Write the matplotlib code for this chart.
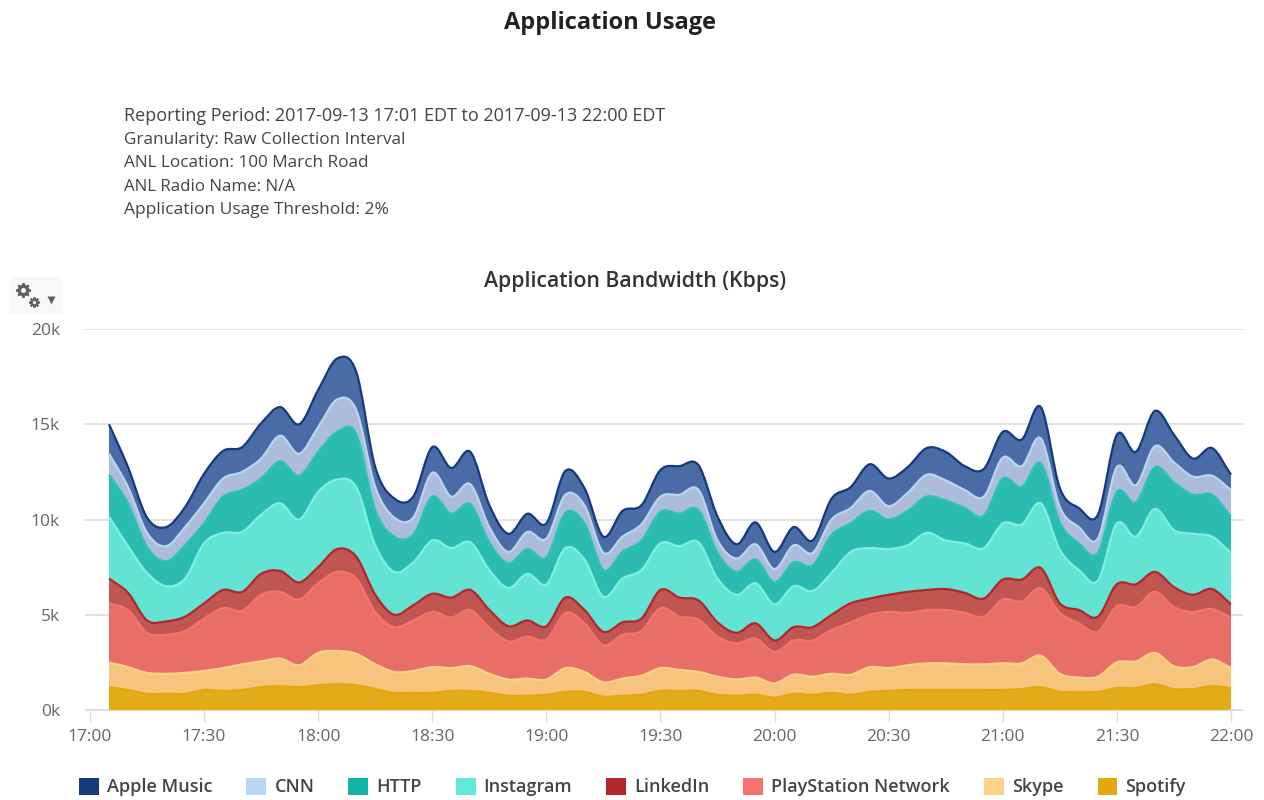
#!/usr/bin/env python
# -*- coding: utf-8 -*-

"""Stacked area chart of application bandwidth, 17:00 - 22:00."""

import numpy as np
import pandas as pd
import matplotlib
matplotlib.use('Agg')
import matplotlib.pyplot as plt
import matplotlib.dates as mdates
import matplotlib.patches as mpatches
from matplotlib.lines import Line2D
from matplotlib.path import Path
from matplotlib.ticker import FuncFormatter

plt.rcParams['font.family'] = ['Open Sans', 'DejaVu Sans']

times = pd.date_range('2017-09-13 17:05', '2017-09-13 22:00', freq='5min')

# Top edge of each stacked layer, in Kbps / 1000
apple_music_top = [
    15.0, 12.75, 10.1, 9.6, 10.65, 12.4, 13.6, 13.8, 15.05, 15.9, 15.0, 16.8, 18.45, 17.75, 12.75, 11.1, 11.2,
    13.8, 12.7, 13.55, 10.75, 9.25, 10.3, 9.8, 12.55, 11.65, 9.1, 10.45, 10.75, 12.6, 12.8, 12.85, 10.15, 8.7,
    9.85, 8.3, 9.6, 8.9, 11.1,
    11.7, 12.9, 12.15, 12.75, 13.75, 13.55, 12.8, 12.65, 14.6, 14.2, 15.9, 11.65, 10.6, 10.25, 14.45, 13.55,
    15.7, 14.45, 13.2, 13.75, 12.35]
cnn_top = [
    13.45, 11.7, 9.3, 8.6, 9.6, 10.85, 12.15, 12.5, 13.2, 14.4, 13.45, 14.85, 16.3, 15.75, 11.7, 10.1, 10.1,
    12.45, 11.2, 11.85, 9.6, 8.3, 9.35, 9.0, 11.3, 10.75, 8.25, 9.1, 9.75, 11.2, 11.3, 11.55, 8.9, 7.95,
    8.7, 7.4, 8.65, 8.25, 10.0,
    10.6, 11.5, 10.7, 11.4, 12.35, 12.05, 11.55, 11.2, 13.25, 12.8, 14.25, 10.65, 9.6, 9.0, 12.75, 11.8,
    13.85, 13.0, 12.25, 12.3, 11.55]
http_top = [
    12.35, 10.85, 8.55, 7.8, 8.65, 9.8, 11.2, 11.55, 12.15, 13.05, 12.3, 13.55, 14.6, 14.5, 10.5, 9.1, 9.2,
    11.2, 10.3, 10.8, 8.8, 7.7, 8.45, 8.0, 10.35, 9.8, 7.35, 8.3, 8.9, 10.4, 10.3, 10.5, 8.25, 7.25,
    7.9, 6.7, 7.75, 7.6, 9.2,
    9.8, 10.45, 10.0, 10.45, 11.2, 11.0, 10.6, 10.2, 12.15, 11.7, 12.95, 9.85, 8.75, 8.25, 11.45, 10.9,
    12.75, 11.95, 11.3, 11.3, 10.15]
instagram_top = [
    10.15, 8.6, 7.2, 6.5, 6.9, 8.75, 9.3, 9.35, 10.25, 10.85, 10.0, 11.45, 12.1, 11.7, 8.65, 7.25, 7.75,
    8.9, 8.5, 8.8, 7.35, 6.4, 7.15, 6.6, 8.5, 7.9, 5.95, 6.9, 7.35, 8.75, 8.6, 8.8, 6.9, 6.05,
    6.65, 5.55, 6.5, 6.25, 7.2,
    8.3, 8.5, 8.45, 8.65, 9.3, 8.9, 8.75, 8.5, 9.8, 9.75, 10.85, 8.4, 7.35, 6.8, 9.8, 9.1,
    10.55, 9.45, 9.25, 9.1, 8.25]
linkedin_top = [
    6.9, 6.15, 4.7, 4.65, 4.9, 5.6, 6.3, 6.2, 7.15, 7.3, 6.7, 7.5, 8.45, 8.05, 6.05, 5.0, 5.5,
    6.1, 5.9, 6.3, 5.25, 4.4, 4.7, 4.4, 5.9, 5.25, 4.1, 4.6, 4.8, 6.3, 5.9, 5.75, 4.6, 4.05,
    4.55, 3.65, 4.35, 4.35, 5.0,
    5.6, 5.85, 6.05, 6.2, 6.3, 6.35, 6.15, 5.85, 6.85, 6.85, 7.45, 5.6, 5.25, 4.9, 6.6, 6.6,
    7.25, 6.45, 6.05, 6.35, 5.55]
psn_top = [
    5.6, 5.25, 4.05, 3.95, 4.15, 4.8, 5.35, 5.2, 6.05, 6.2, 5.8, 6.65, 7.25, 6.9, 5.15, 4.35, 4.7,
    5.15, 4.85, 5.25, 4.3, 3.6, 3.85, 3.7, 5.1, 4.55, 3.4, 3.95, 4.15, 5.35, 4.9, 4.75, 3.85, 3.5,
    3.75, 3.05, 3.65, 3.65, 4.2,
    4.6, 5.0, 5.15, 5.1, 5.25, 5.25, 5.1, 4.9, 5.8, 5.7, 6.4, 5.1, 4.55, 4.1, 5.45, 5.4,
    6.2, 5.4, 5.15, 5.3, 4.85]
skype_top = [
    2.5, 2.25, 1.95, 1.9, 1.95, 2.05, 2.2, 2.4, 2.55, 2.7, 2.35, 3.0, 3.1, 2.95, 2.4, 2.0, 2.05,
    2.25, 2.2, 2.3, 1.9, 1.6, 1.65, 1.6, 2.2, 2.0, 1.45, 1.65, 1.8, 2.2, 2.1, 2.0, 1.75, 1.6,
    1.7, 1.4, 1.85, 1.75, 1.9,
    1.85, 2.25, 2.2, 2.35, 2.45, 2.45, 2.4, 2.4, 2.45, 2.45, 2.85, 1.9, 1.7, 1.75, 2.5, 2.55,
    3.0, 2.3, 2.25, 2.65, 2.2]
spotify_top = [
    1.2, 1.05, 0.85, 0.85, 0.85, 1.05, 1.0, 1.05, 1.2, 1.25, 1.2, 1.3, 1.35, 1.3, 1.1, 0.9, 0.9,
    0.9, 1.0, 1.0, 0.9, 0.75, 0.75, 0.8, 0.95, 0.95, 0.7, 0.75, 0.8, 1.0, 1.0, 1.0, 0.8, 0.75,
    0.8, 0.65, 0.85, 0.8, 0.9,
    0.8, 0.95, 1.0, 1.05, 1.05, 1.05, 1.05, 1.05, 1.05, 1.1, 1.2, 0.95, 0.95, 0.95, 1.15, 1.15,
    1.35, 1.1, 1.1, 1.25, 1.15]

names = ['Apple Music', 'CNN', 'HTTP', 'Instagram', 'LinkedIn', 'PlayStation Network', 'Skype', 'Spotify']
tops = [apple_music_top, cnn_top, http_top, instagram_top, linkedin_top, psn_top, skype_top, spotify_top]
y_ticks = [0, 5, 10, 15, 20]

line_colors = ['#14397c', '#b8d6f4', '#2cc4b6', '#7ff0e0', '#b3262c', '#f4736c', '#fbd288', '#e3a80f']
fill_colors = ['#4a6ba6', '#aebcdc', '#2bbbb0', '#62e3d3', '#c05652', '#e86e67', '#f6c47c', '#e3ab17']
legend_colors = ['#14397c', '#b8d6f4', '#11b5a5', '#62e9d8', '#b3262c', '#f4736c', '#fbd288', '#e3a80f']


def curve_through(x, y):
    """Bezier vertices and codes (without the first MOVETO) of a smooth curve through the points."""
    x = np.asarray(x, dtype=float)
    y = np.asarray(y, dtype=float)
    # Slope at each point comes from its two neighbours, like a spline area in the original chart
    dy = np.gradient(y)
    dx = np.gradient(x)
    verts = []
    for i in range(len(x) - 1):
        verts.append((x[i] + dx[i] / 3, y[i] + dy[i] / 3))
        verts.append((x[i + 1] - dx[i + 1] / 3, y[i + 1] - dy[i + 1] / 3))
        verts.append((x[i + 1], y[i + 1]))
    return verts, [Path.CURVE4] * len(verts)


W, H = 1264, 800
fig = plt.figure(figsize=(W / 100, H / 100), dpi=100)
ax = fig.add_axes([85 / W, (H - 710) / H, (1243 - 85) / W, 381 / H])

# 114.1 pixels per half hour, with 17:00 sitting 5 pixels in from the left of the axes
pad_left = pd.Timedelta(minutes=1.31)
pad_right = pd.Timedelta(minutes=3.16)
ax.set_xlim(pd.Timestamp('2017-09-13 17:00') - pad_left, pd.Timestamp('2017-09-13 22:00') + pad_right)
ax.set_ylim(0, 20)

# Draw the layers from the bottom up, each one down to the top of the one below
xs = mdates.date2num(times)
lower = [0] * len(xs)
for top, line, fill in reversed(list(zip(tops, line_colors, fill_colors))):
    top_verts, top_codes = curve_through(xs, top)
    low_verts, low_codes = curve_through(xs[::-1], lower[::-1])
    area = Path([(xs[0], top[0])] + top_verts + [(xs[-1], lower[-1])] + low_verts + [(xs[0], top[0])],
                [Path.MOVETO] + top_codes + [Path.LINETO] + low_codes + [Path.CLOSEPOLY])
    ax.add_patch(mpatches.PathPatch(area, facecolor=fill, edgecolor='none', zorder=2))
    edge = Path([(xs[0], top[0])] + top_verts, [Path.MOVETO] + top_codes)
    ax.add_patch(mpatches.PathPatch(edge, facecolor='none', edgecolor=line, linewidth=1.6, joinstyle='round', zorder=3))
    lower = top

for side in ['top', 'left', 'right']:
    ax.spines[side].set_visible(False)
ax.spines['bottom'].set_color('#dddddd')
ax.spines['bottom'].set_zorder(4)

ax.yaxis.grid(True, color='#dcdcdc', linewidth=1.2, zorder=1)
ax.set_axisbelow(True)
ax.set_yticks(y_ticks)
ax.yaxis.set_major_formatter(FuncFormatter(lambda v, pos: f'{v:.0f}k'))
ax.xaxis.set_major_locator(mdates.MinuteLocator(byminute=[0, 30]))
ax.xaxis.set_major_formatter(mdates.DateFormatter('%H:%M'))
ax.tick_params(axis='y', length=0, pad=18, labelsize=12.5, labelcolor='#666666')
ax.tick_params(axis='x', length=8.5, width=1, color='#dddddd', pad=5, labelsize=12.5, labelcolor='#666666')

fig.text(610 / W, 1 - 23 / H, 'Application Usage', ha='center', va='center', fontsize=17, fontweight='bold',
         color='#222222')
fig.text(635 / W, 1 - 282 / H, 'Application Bandwidth (Kbps)', ha='center', va='center', fontsize=15.3,
         fontweight='semibold', color='#333333')

info_lines = ['Reporting Period: 2017-09-13 17:01 EDT to 2017-09-13 22:00 EDT',
              'Granularity: Raw Collection Interval',
              'ANL Location: 100 March Road',
              'ANL Radio Name: N/A',
              'Application Usage Threshold: 2%']
info_ys = [116, 140, 163, 187, 210]
info_sizes = [13, 12.3, 12.35, 12.2, 12.55]
for line, y, size in zip(info_lines, info_ys, info_sizes):
    fig.text(124 / W, 1 - y / H, line, ha='left', va='center', fontsize=size, color='#444444')

# The little settings button top left: two gears and a drop-down arrow
button_color = '#f8f8f8'
fig.patches.append(mpatches.Rectangle((10 / W, 1 - 314 / H), 52 / W, 37 / H, transform=fig.transFigure,
                                      facecolor=button_color, edgecolor='none'))
icon_color = '#5f5f5f'
for cx, cy, ring, hole in [(23, 290, 8.5, 3.6), (34, 302, 5.5, 2.4)]:
    fig.add_artist(Line2D([cx / W], [1 - cy / H], transform=fig.transFigure, marker=(8, 2, 0), markersize=ring + 2,
                          markeredgecolor=icon_color, markeredgewidth=1.4))
    fig.add_artist(Line2D([cx / W], [1 - cy / H], transform=fig.transFigure, marker='o', markersize=ring,
                          markerfacecolor=icon_color, markeredgecolor='none'))
    fig.add_artist(Line2D([cx / W], [1 - cy / H], transform=fig.transFigure, marker='o', markersize=hole,
                          markerfacecolor=button_color, markeredgecolor='none'))
fig.add_artist(Line2D([51 / W], [1 - 299.5 / H], transform=fig.transFigure, marker='v', markersize=5.5,
                      markerfacecolor=icon_color, markeredgecolor='none'))

patches = [mpatches.Patch(facecolor=c, label=n) for c, n in zip(legend_colors, names)]
leg = fig.legend(handles=patches, ncol=8, loc='center', bbox_to_anchor=(632.5 / W, 1 - 787 / H), frameon=False,
                 fontsize=13, handlelength=1.1, handleheight=1.1, handletextpad=0.45, columnspacing=1.88)
for text in leg.get_texts():
    text.set_color('#444444')
    text.set_fontweight('semibold')

plt.savefig('out.png', dpi=100)
